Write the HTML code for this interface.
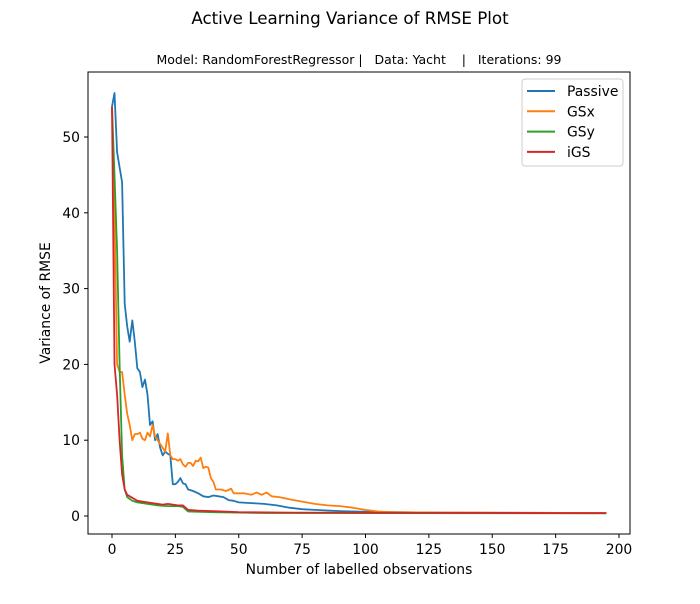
<!DOCTYPE html>
<html><head><meta charset="utf-8"><style>
body{margin:0;background:#fff;font-family:"DejaVu Sans","Liberation Sans",sans-serif;}
svg text{font-family:"DejaVu Sans","Liberation Sans",sans-serif;}
</style></head><body>
<svg id="chart" width="700" height="600" xmlns="http://www.w3.org/2000/svg">
<text x="350" y="24" text-anchor="middle" font-size="16.7">Active Learning Variance of RMSE Plot</text>
<text x="359" y="64" text-anchor="middle" font-size="12.5" xml:space="preserve">Model: RandomForestRegressor |   Data: Yacht    |   Iterations: 99</text>
<g id="plot"></g>
<rect x="88" y="72" width="542" height="462" fill="none" stroke="#000" stroke-width="1"/>
<text x="359" y="574" text-anchor="middle" font-size="13.9">Number of labelled observations</text>
<text transform="translate(50,303) rotate(-90)" text-anchor="middle" font-size="13.9">Variance of RMSE</text>
<g>
<rect x="522" y="79" width="101" height="87" rx="3" fill="#fff" stroke="#ccc"/>
</g>
</svg>
<script>
const xTicks=[0,25,50,75,100,125,150,175,200];
const yTicks=[0,10,20,30,40,50];
const seriesNames=["Passive","GSx","GSy","iGS"];
const colors=["#1f77b4","#ff7f0e","#2ca02c","#d62728"];
const passiveX=[0,1,2,4,5,6,7,8,9,10,11,12,13,14,15,16,17,18,19,20,21,22,23,24,25,26,27,28,29,30,32,34,36,38,40,42,44,46,48,50,55,60,65,70,75,80,90,100,110,130,195];
const passiveY=[54,55.8,48,44,28,25,23,25.8,23,19.5,19,17,18,16,12,12.5,10,10.8,9,8,8.5,8.2,8,4.2,4.2,4.5,5,4.3,4.2,3.5,3.3,3,2.6,2.5,2.7,2.6,2.5,2.1,2,1.8,1.7,1.6,1.4,1.1,0.9,0.8,0.65,0.55,0.5,0.45,0.4];
const gsxX=[0,1,2,3,4,5,6,7,8,9,10,11,12,13,14,15,16,17,18,19,20,21,22,23,24,25,26,27,28,29,30,31,32,33,34,35,36,37,38,39,40,41,43,45,47,48,52,55,57,59,61,63,66,70,75,80,85,90,95,100,105,110,130,195];
const gsxY=[54,40,20,19,19,16,13.5,12,10,10.8,10.8,11,10.2,10,11,10.5,12,10.5,10,9.5,9,8.5,10.9,8,7.5,7.5,7.3,7.5,6.8,6.5,7,7,6.6,7.3,7.2,7.7,6.3,6.5,6.4,5,4.5,3.5,3.5,3.3,3.6,3,3,2.8,3.1,2.8,3.1,2.6,2.5,2.2,1.9,1.6,1.4,1.3,1.1,0.8,0.6,0.5,0.45,0.4];
const gsyX=[0,1,2,3,4,5,6,8,10,14,18,22,26,28,30,40,60,195];
const gsyY=[54,45,35,20,8,3.5,2.5,2,1.8,1.6,1.4,1.3,1.3,1.2,0.6,0.5,0.4,0.35];
const igsX=[0,1,2,3,4,5,6,8,10,14,18,20,22,26,28,30,34,40,50,70,195];
const igsY=[54,20,16,10,5.5,3.5,2.8,2.4,2,1.8,1.6,1.5,1.6,1.4,1.4,0.8,0.7,0.65,0.5,0.45,0.38];
const allX=[passiveX,gsxX,gsyX,igsX], allY=[passiveY,gsxY,gsyY,igsY];
const NS="http://www.w3.org/2000/svg";
const sx=v=>112+v*(619-112)/200;
const sy=v=>516-v*(516-137)/50;
const svg=document.getElementById('chart'), plot=document.getElementById('plot');
function mk(tag,attrs,parent){const e=document.createElementNS(NS,tag);for(const k in attrs)e.setAttribute(k,attrs[k]);(parent||svg).appendChild(e);return e;}
xTicks.forEach(t=>{
 const l=mk('line',{x1:sx(t),x2:sx(t),y1:534,y2:538,stroke:'#000'});
 
 
 const tx=mk('text',{x:sx(t),y:554,'text-anchor':'middle','font-size':'13.9'});
 tx.textContent=t;
 
 
});
yTicks.forEach(t=>{
 const l=mk('line',{x1:84,x2:88,y1:sy(t),y2:sy(t),stroke:'#000'});
 
 
 const tx=mk('text',{x:80,y:sy(t)+5,'text-anchor':'end','font-size':'13.9'});
 tx.textContent=t;
 
 
});
seriesNames.forEach((n,i)=>{
 const pts=allX[i].map((x,j)=>sx(x).toFixed(1)+','+sy(allY[i][j]).toFixed(1)).join(' ');
 const p=mk('polyline',{points:pts,fill:'none',stroke:colors[i],'stroke-width':'1.8','stroke-linejoin':'round'},plot);
 
 
 const y=91+i*20.3;
 const ll=mk('line',{x1:527,x2:555,y1:y,y2:y,stroke:colors[i],'stroke-width':'2'});
 
 
 const lt=mk('text',{x:567,y:y+5,'font-size':'13.9'});
 lt.textContent=n;
 
 
});
</script>
</body></html>
